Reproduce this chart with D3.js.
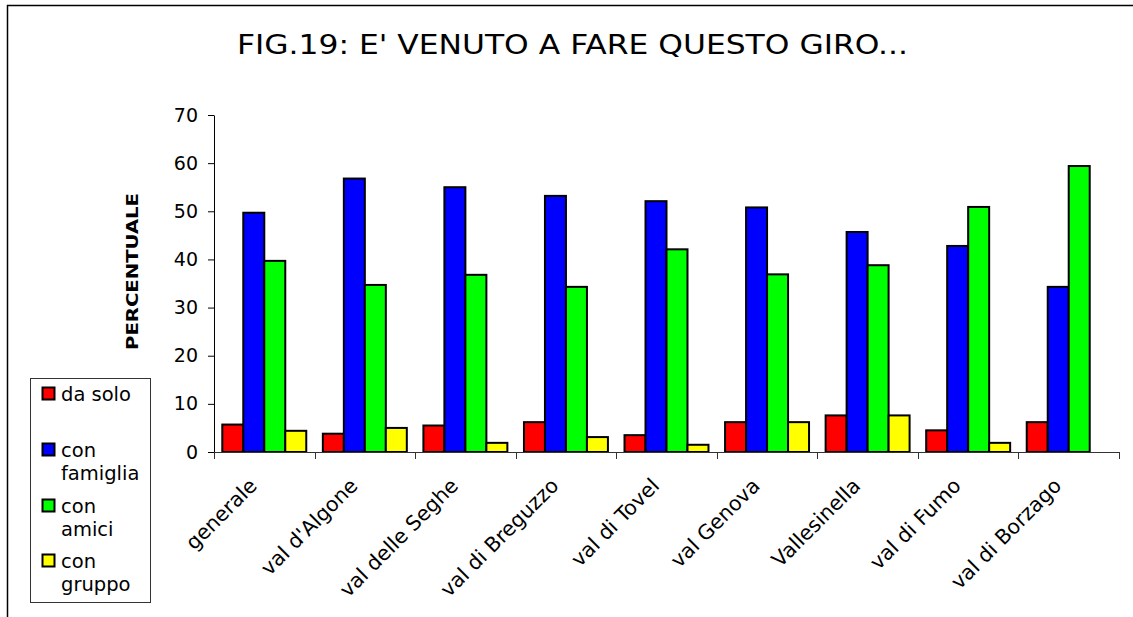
<!DOCTYPE html>
<html>
<head>
<meta charset="utf-8">
<script src="https://cdn.jsdelivr.net/npm/d3@7"></script>
<style>
  html, body { margin: 0; padding: 0; background: #fff; }
  svg { display: block; }
</style>
</head>
<body>
<svg id="chart" width="1133" height="617"></svg>
<script>
const categories = ["generale", "val d'Algone", "val delle Seghe", "val di Breguzzo", "val di Tovel", "val Genova", "Vallesinella", "val di Fumo", "val di Borzago"];
const seriesNames = ["da solo", "con famiglia", "con amici", "con gruppo"];
const legendLines = [["da solo"], ["con", "famiglia"], ["con", "amici"], ["con", "gruppo"]];
const daSolo     = [5.7, 3.8, 5.5, 6.2, 3.5, 6.2, 7.6, 4.5, 6.2];
const conFamiglia = [49.7, 56.8, 55.0, 53.2, 52.1, 50.8, 45.7, 42.8, 34.3];
const conAmici   = [39.7, 34.7, 36.8, 34.3, 42.1, 36.9, 38.8, 50.9, 59.4];
const conGruppo  = [4.4, 5.0, 1.9, 3.1, 1.5, 6.2, 7.6, 1.9, 0];
const yTicks = [0, 10, 20, 30, 40, 50, 60, 70];
const colors = ["#ff0000", "#0000ff", "#00ff00", "#ffff00"];
const title = "FIG.19: E' VENUTO A FARE QUESTO GIRO...";
const yTitle = "PERCENTUALE";

const seriesValues = [daSolo, conFamiglia, conAmici, conGruppo];
const svg = d3.select("#chart");
const font = "'DejaVu Sans', Verdana, sans-serif";

// outer frame
svg.append("rect").attr("x", 7.5).attr("y", 5.5).attr("width", 1300).attr("height", 700)
  .attr("fill", "none").attr("stroke", "#000").attr("stroke-width", 1.5);

const plot = {left: 214, right: 1119, top: 115, bottom: 452};
const pad = 0.165;
const x = d3.scaleBand().domain(categories).range([plot.left, plot.right])
  .paddingInner(pad).paddingOuter(pad / 2);
const x1 = d3.scaleBand().domain(seriesNames).range([0, x.bandwidth()]);
const y = d3.scaleLinear().domain([0, 70]).range([plot.bottom, plot.top]);
const color = d3.scaleOrdinal().domain(seriesNames).range(colors);

// title
svg.append("text").attr("x", 572.5).attr("y", 54).attr("text-anchor", "middle")
  .attr("font-family", font).attr("font-size", 27).attr("fill", "#000")
  .attr("textLength", 671).attr("lengthAdjust", "spacingAndGlyphs").text(title);

// y axis title
svg.append("text").attr("transform", "translate(137.5,271.5) rotate(-90)")
  .attr("text-anchor", "middle").attr("font-family", font)
  .attr("font-weight", "bold").attr("font-size", 16.5).attr("textLength", 157)
  .attr("lengthAdjust", "spacingAndGlyphs").text(yTitle);

// bars
const groups = svg.append("g").selectAll("g").data(categories).join("g")
  .attr("transform", d => `translate(${x(d)},0)`);
groups.selectAll("rect")
  .data((c, i) => seriesNames.map((s, k) => ({s, v: seriesValues[k][i]})).filter(d => d.v > 0))
  .join("rect")
  .attr("x", d => x1(d.s))
  .attr("y", d => y(d.v))
  .attr("width", x1.bandwidth())
  .attr("height", d => y(0) - y(d.v))
  .attr("fill", d => color(d.s))
  .attr("stroke", "#000").attr("stroke-width", 2);

// y axis
const yAxis = svg.append("g").attr("transform", `translate(${plot.left},0)`)
  .call(d3.axisLeft(y).tickValues(yTicks).tickSize(6).tickSizeOuter(0).tickPadding(10));
yAxis.selectAll("text").attr("font-family", font).attr("font-size", 19).attr("fill", "#000");
yAxis.selectAll("line, path").attr("stroke", "#000");

// x axis
const step = x.step();
const bounds = d3.range(categories.length + 1).map(i => x(categories[0]) - step * pad / 2 + i * step);
svg.append("line").attr("x1", plot.left).attr("x2", plot.right)
  .attr("y1", plot.bottom + 0.5).attr("y2", plot.bottom + 0.5).attr("stroke", "#333");
svg.append("g").selectAll("line").data(bounds).join("line")
  .attr("x1", d => Math.round(d) + 0.5).attr("x2", d => Math.round(d) + 0.5)
  .attr("y1", plot.bottom).attr("y2", plot.bottom + 7).attr("stroke", "#333");

svg.append("g").selectAll("text").data(categories).join("text")
  .attr("transform", d => `translate(${x(d) + x.bandwidth() / 2 - 6},${plot.bottom + 35}) rotate(-45)`)
  .attr("text-anchor", "end").attr("font-family", font).attr("font-size", 20.5).attr("fill", "#000")
  .text(d => d);

// legend
const lg = svg.append("g");
lg.append("rect").attr("x", 30.5).attr("y", 378.5).attr("width", 120).attr("height", 224)
  .attr("fill", "#fff").attr("stroke", "#333").attr("stroke-width", 1);
const legendBase = [400.5, 456.5, 512.5, 567.5];
seriesNames.forEach((s, k) => {
  lg.append("rect").attr("x", 42.5).attr("y", legendBase[k] - 13).attr("width", 12).attr("height", 12)
    .attr("fill", color(s)).attr("stroke", "#000").attr("stroke-width", 2);
  const t = lg.append("text").attr("x", 61).attr("y", legendBase[k]).attr("font-family", font)
    .attr("font-size", 19.5).attr("fill", "#000");
  legendLines[k].forEach((line, j) => {
    t.append("tspan").attr("x", 61).attr("dy", j === 0 ? 0 : 23.5).text(line);
  });
});
</script>
</body>
</html>
